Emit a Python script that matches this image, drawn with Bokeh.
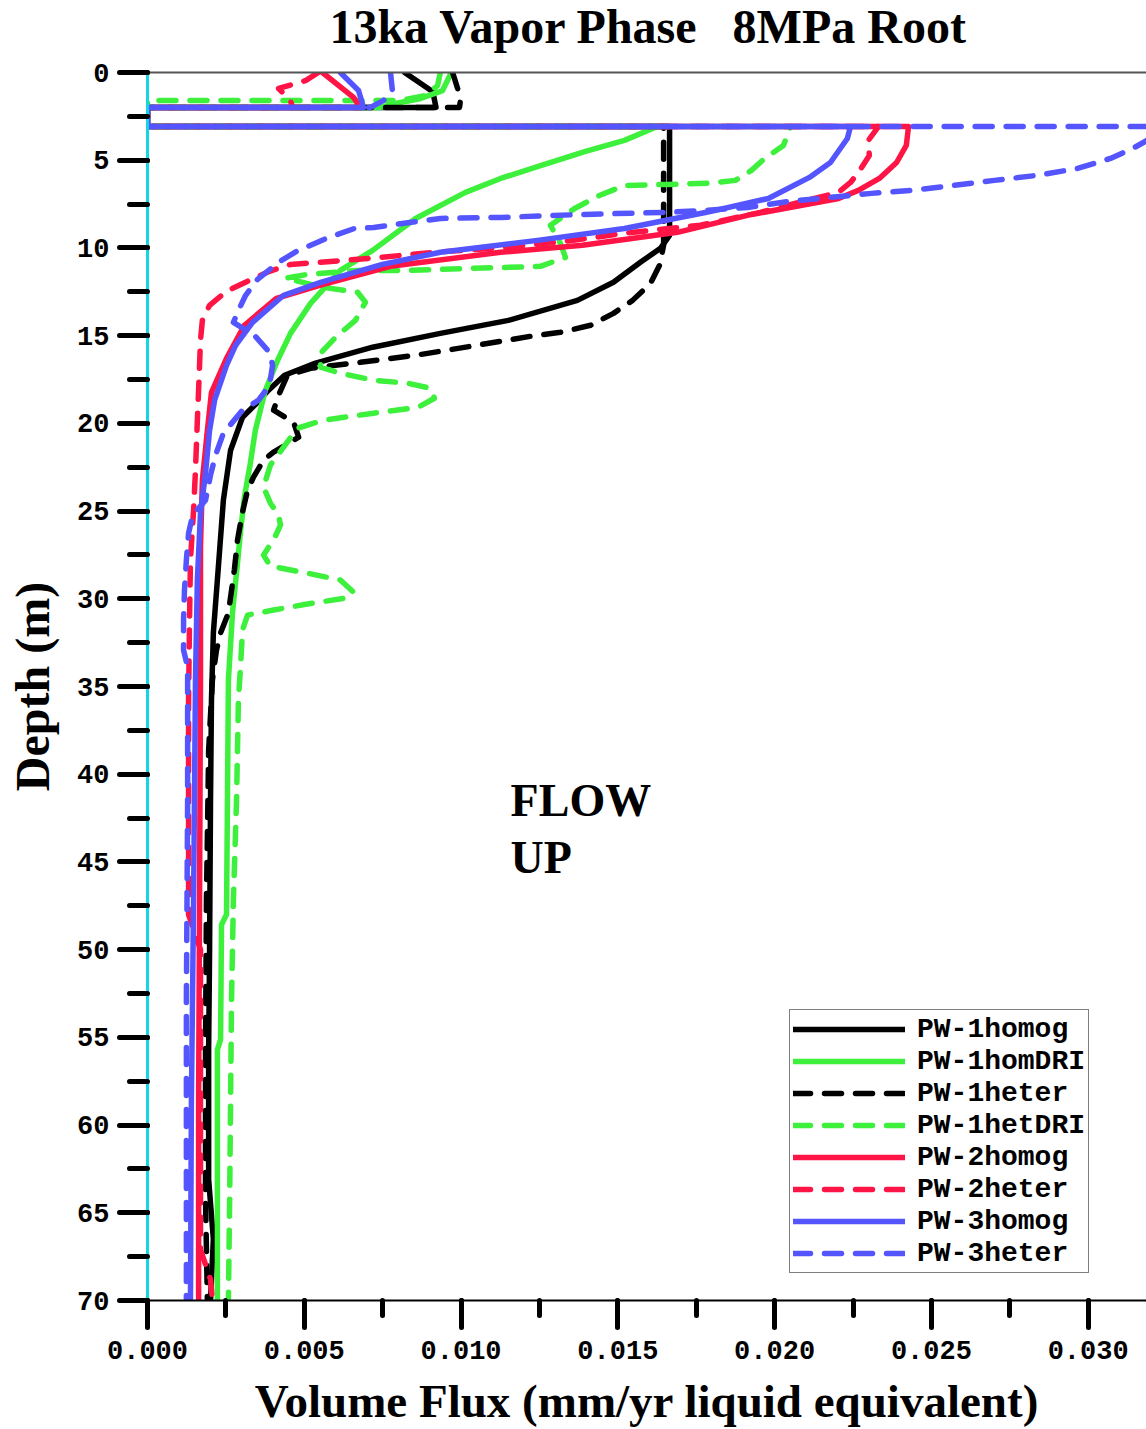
from bokeh.plotting import figure
from bokeh.layouts import column
from bokeh.models import (Range1d, LinearAxis, FixedTicker, SingleIntervalTicker,
                          PrintfTickFormatter, Legend, LegendItem, ColumnDataSource)
from bokeh.core.properties import value
from bokeh.embed import file_html
from bokeh.resources import INLINE

# ---------------- text ----------------
TITLE = "13ka Vapor Phase\u00a0\u00a0\u00a08MPa Root"
X_LABEL = "Volume Flux (mm/yr liquid equivalent)"
Y_LABEL = "Depth (m)"
ANNOT_TEXT = ["FLOW", "UP"]
ANNOT_X = [0.01158, 0.01158]
ANNOT_Y = [41.5, 44.75]

# ---------------- data (flux mm/yr, depth m) ----------------
pw1_homog_flux = [0.0082, 0.0091, 0.0092, 0.0, 0.0, 0.01665, 0.01665, 0.01636, 0.01572, 0.01486,
                  0.01371, 0.01151, 0.00934, 0.00718, 0.00536, 0.00437, 0.00386, 0.00348, 0.00303,
                  0.00265, 0.00242, 0.00226, 0.0021, 0.00204, 0.00201, 0.00198, 0.00195, 0.00195,
                  0.0021, 0.00201]
pw1_homog_depth = [0.0, 1.1, 1.99, 1.99, 3.08, 3.08, 9.28, 10.02, 10.82, 11.96,
                   12.99, 14.13, 14.87, 15.66, 16.57, 17.26, 18.11, 18.85, 19.65,
                   21.53, 24.38, 28.19, 31.95, 35.77, 41.46, 50.0, 55.7, 63.1,
                   66.5, 70.0]

pw1_homdri_flux = [0.00969, 0.00941, 0.00871, 0.00791, 0.00743, 0.0, 0.0, 0.01626, 0.01521, 0.01397,
                   0.01256, 0.01126, 0.01014, 0.00855, 0.00718, 0.00615, 0.0052, 0.00456, 0.00415,
                   0.00376, 0.00344, 0.00328, 0.00309, 0.00297, 0.00287, 0.00271, 0.00258, 0.00255,
                   0.00252, 0.00236, 0.00233, 0.00223, 0.00223]
pw1_homdri_depth = [0.0, 1.03, 1.48, 1.77, 1.99, 1.99, 3.08, 3.08, 3.87, 4.5,
                    5.3, 6.04, 6.83, 8.32, 10.14, 11.28, 13.16, 14.87, 16.4,
                    18.11, 20.39, 22.27, 24.21, 26.09, 27.97, 30.81, 34.63, 41.46,
                    48.0, 48.58, 55.13, 55.7, 70.0]

pw1_heter_flux = [0.00973, 0.00989, 0.00998, 0.00995, 0.0, 0.0, 0.01646, 0.01646, 0.01633, 0.01604,
                  0.01547, 0.01486, 0.01413, 0.01317, 0.01221, 0.0103, 0.00855, 0.00679, 0.0052,
                  0.00446, 0.00421, 0.00402, 0.00466, 0.00482, 0.00402, 0.0037, 0.00338, 0.00319,
                  0.00303, 0.00287, 0.00277, 0.00265, 0.00258, 0.00233, 0.0022, 0.00207, 0.00195,
                  0.00188, 0.00185, 0.00185, 0.00191]
pw1_heter_depth = [0.0, 0.91, 1.59, 1.99, 1.99, 3.08, 3.08, 9.85, 10.99, 12.02,
                   12.99, 13.73, 14.41, 14.81, 15.04, 15.61, 16.12, 16.52, 16.86,
                   17.26, 18.28, 19.25, 19.94, 20.79, 21.64, 22.1, 23.07, 23.81,
                   25.06, 26.66, 28.36, 29.9, 30.81, 31.95, 32.92, 34.63, 38.62,
                   47.16, 55.7, 64.25, 70.0]

pw1_hetdri_flux = [0.00934, 0.00925, 0.00887, 0.00807, 0.0, 0.0, 0.02051, 0.02028, 0.01968, 0.01926,
                   0.01875, 0.01783, 0.01652, 0.01521, 0.01441, 0.01362, 0.01285, 0.01317, 0.01333,
                   0.01253, 0.0104, 0.00829, 0.0067, 0.0051, 0.0044, 0.00561, 0.0067, 0.00695,
                   0.00663, 0.006, 0.00552, 0.00552, 0.00615, 0.00721, 0.00829, 0.00902, 0.00915,
                   0.00864, 0.00721, 0.00561, 0.00478, 0.00434, 0.00392, 0.0037, 0.00392, 0.00418,
                   0.00424, 0.00405, 0.0037, 0.00392, 0.0051, 0.00615, 0.00657, 0.00631, 0.0051,
                   0.00402, 0.00319, 0.00303, 0.00297, 0.0029, 0.00284, 0.00274, 0.00268, 0.00265,
                   0.00262, 0.00258]
pw1_hetdri_depth = [0.0, 0.74, 1.31, 1.6, 1.6, 3.08, 3.08, 4.16, 4.9, 5.58,
                    6.15, 6.32, 6.38, 6.44, 7.01, 7.75, 8.71, 9.74, 10.54,
                    11.05, 11.16, 11.28, 11.28, 11.51, 11.73, 12.25, 12.53, 13.1,
                    14.13, 15.09, 16.0, 16.8, 17.14, 17.54, 17.71, 18.0, 18.57,
                    19.08, 19.42, 19.82, 20.28, 21.36, 22.38, 23.64, 24.55, 25.23,
                    25.8, 26.54, 27.51, 28.14, 28.54, 28.93, 29.62, 29.96, 30.3,
                    30.64, 30.93, 31.78, 33.77, 35.77, 41.46, 47.16, 52.86, 58.55,
                    64.25, 70.0]

pw2_homog_flux = [0.00558, 0.00657, 0.00679, 0.0, 0.0, 0.02427, 0.0242, 0.02389, 0.02334, 0.02267,
                  0.02204, 0.01913, 0.0169, 0.01387, 0.01126, 0.00775, 0.00549, 0.00411, 0.00309,
                  0.00252, 0.00204, 0.00191, 0.00175, 0.00169, 0.00169, 0.00166, 0.00163, 0.00163]
pw2_homog_depth = [0.0, 1.42, 1.99, 1.99, 3.08, 3.08, 4.16, 5.13, 6.04, 6.72,
                   7.18, 8.14, 9.11, 9.85, 10.25, 11.05, 12.13, 12.87, 14.41,
                   16.29, 18.23, 20.39, 23.24, 27.05, 34.63, 47.16, 58.55, 70.0]

pw2_heter_flux = [0.00545, 0.00504, 0.00418, 0.00456, 0.00462, 0.0, 0.0, 0.02331, 0.02299, 0.02302,
                  0.02267, 0.02242, 0.02204, 0.01955, 0.01763, 0.01518, 0.01358, 0.01148, 0.00912,
                  0.00743, 0.00552, 0.00456, 0.00389, 0.00325, 0.00252, 0.00198, 0.00175, 0.00169,
                  0.00166, 0.00163, 0.00159, 0.00153, 0.00147, 0.00137, 0.00134, 0.00131, 0.00131,
                  0.00169, 0.00169, 0.00201, 0.00207]
pw2_heter_depth = [0.0, 0.46, 0.91, 1.59, 1.99, 1.99, 3.08, 3.08, 3.87, 4.73,
                   5.7, 6.27, 6.83, 7.97, 8.71, 9.17, 9.57, 9.97, 10.25,
                   10.54, 10.82, 10.94, 11.33, 11.85, 12.47, 13.27, 14.13, 15.26,
                   16.69, 18.11, 19.82, 22.67, 24.95, 27.79, 31.21, 35.77, 48.0,
                   50.0, 67.1, 68.8, 70.0]

pw3_homog_flux = [0.00615, 0.00673, 0.00689, 0.0, 0.0, 0.02242, 0.02232, 0.02178, 0.02111, 0.0198,
                  0.01783, 0.01521, 0.01244, 0.00934, 0.00749, 0.00552, 0.00434, 0.00335, 0.00281,
                  0.00252, 0.00214, 0.00198, 0.00185, 0.00169, 0.00159, 0.00153, 0.00147, 0.0014,
                  0.00137]
pw3_homog_depth = [0.0, 1.03, 1.99, 1.99, 3.08, 3.08, 3.76, 5.13, 5.98, 7.18,
                   7.97, 8.89, 9.57, 10.25, 10.94, 11.96, 12.7, 14.24, 15.55,
                   16.69, 18.68, 20.39, 22.84, 25.12, 28.93, 34.63, 47.16, 58.55,
                   70.0]

pw3_heter_flux = [0.00775, 0.00781, 0.00753, 0.00711, 0.0, 0.0, 0.0336, 0.0333, 0.0319, 0.03148,
                  0.03071, 0.02966, 0.02835, 0.02701, 0.0257, 0.0244, 0.02309, 0.02178, 0.02044,
                  0.01913, 0.01783, 0.01652, 0.01387, 0.01126, 0.00934, 0.00721, 0.0066, 0.00571,
                  0.00475, 0.00418, 0.00351, 0.00313, 0.0029, 0.00274, 0.00341, 0.00389, 0.00399,
                  0.00389, 0.00354, 0.00303, 0.00242, 0.00217, 0.00201, 0.00185, 0.00144, 0.00131,
                  0.00124, 0.00118, 0.00115, 0.00115, 0.00128, 0.00128, 0.00124, 0.00124]
pw3_heter_depth = [0.0, 1.03, 1.59, 1.99, 1.99, 3.08, 3.08, 3.45, 3.85, 4.27,
                   4.9, 5.47, 5.87, 6.15, 6.44, 6.72, 6.89, 7.12, 7.35,
                   7.69, 7.86, 7.97, 8.09, 8.26, 8.32, 8.83, 8.89, 9.45,
                   10.2, 10.82, 11.79, 12.7, 13.56, 14.24, 14.98, 15.95, 16.69,
                   17.83, 18.68, 19.25, 20.56, 21.81, 22.95, 24.38, 25.23, 26.26,
                   27.79, 29.5, 31.21, 32.92, 33.89, 41.46, 52.86, 70.0]

# ---------------- styles ----------------
BLACK = "#000000"
GREEN = "#3cf03c"
RED = "#ff1446"
BLUE = "#5555ff"
DASH = "17 14"
LW = 5.5

series = [
    ("PW-1homog", pw1_homog_flux, pw1_homog_depth, BLACK, "solid"),
    ("PW-1homDRI", pw1_homdri_flux, pw1_homdri_depth, GREEN, "solid"),
    ("PW-1heter", pw1_heter_flux, pw1_heter_depth, BLACK, DASH),
    ("PW-1hetDRI", pw1_hetdri_flux, pw1_hetdri_depth, GREEN, DASH),
    ("PW-2homog", pw2_homog_flux, pw2_homog_depth, RED, "solid"),
    ("PW-2heter", pw2_heter_flux, pw2_heter_depth, RED, DASH),
    ("PW-3homog", pw3_homog_flux, pw3_homog_depth, BLUE, "solid"),
    ("PW-3heter", pw3_heter_flux, pw3_heter_depth, BLUE, DASH),
]

SERIF = "Liberation Serif"
MONO = "Liberation Mono"

W = 1146
FRAME_LEFT = 147
TITLE_H = 55
MAIN_H = 1429 - TITLE_H

# ---------------- title strip (separate small figure, frame aligned with the plot) ----------------
pt = figure(width=W, height=TITLE_H, output_backend="svg", toolbar_location=None,
            x_range=Range1d(FRAME_LEFT, W), y_range=Range1d(TITLE_H, 0),
            x_axis_location=None, y_axis_location=None,
            min_border_left=FRAME_LEFT, min_border_right=0, min_border_top=0, min_border_bottom=0,
            background_fill_color="white", border_fill_color="white")
pt.outline_line_color = None
pt.grid.visible = False
pt.title.visible = False
title_src = ColumnDataSource(data=dict(x=[648], y=[26], t=[TITLE]))
pt.text("x", "y", text="t", source=title_src, text_font=value(SERIF),
        text_font_style="bold", text_font_size="48px", text_color="black",
        text_align="center", text_baseline="alphabetic")

# ---------------- main plot ----------------
p = figure(width=W, height=MAIN_H, output_backend="svg", toolbar_location=None,
           x_range=Range1d(0, 0.03186), y_range=Range1d(70, 0),
           min_border_left=FRAME_LEFT, min_border_right=0, min_border_top=72 - TITLE_H,
           min_border_bottom=128,
           background_fill_color="white", border_fill_color="white")
p.outline_line_color = None
p.grid.visible = False
p.title.visible = False

xa = p.below[0]
ya = p.left[0]

# top border line as an empty axis
top_axis = LinearAxis(ticker=FixedTicker(ticks=[]), axis_line_color="#555555", axis_line_width=2,
                      major_tick_line_color=None, minor_tick_line_color=None,
                      major_tick_out=0, minor_tick_out=0,
                      major_label_text_font_size="0px", major_label_standoff=0)
p.add_layout(top_axis, "above")

xa.ticker = SingleIntervalTicker(interval=0.005, num_minor_ticks=2)
xa.formatter = PrintfTickFormatter(format="%.3f")
xa.axis_label = X_LABEL
ya.ticker = SingleIntervalTicker(interval=5, num_minor_ticks=2)
ya.axis_label = Y_LABEL

for ax in (xa, ya):
    ax.major_tick_in = 0
    ax.minor_tick_in = 0
    ax.major_tick_line_width = 5
    ax.minor_tick_line_width = 5
    ax.major_tick_line_cap = "round"
    ax.minor_tick_line_cap = "round"
    ax.major_tick_line_color = "black"
    ax.minor_tick_line_color = "black"
    ax.major_label_text_font = MONO
    ax.major_label_text_font_style = "bold"
    ax.major_label_text_font_size = "27px"
    ax.major_label_text_color = "black"
    ax.axis_label_text_font = SERIF
    ax.axis_label_text_font_style = "bold"
    ax.axis_label_text_color = "black"

xa.major_tick_out = 27
xa.minor_tick_out = 15
xa.major_label_standoff = 13
xa.axis_label_standoff = 13
xa.axis_label_text_font_size = "47px"
xa.axis_line_width = 2
xa.axis_line_color = "black"

ya.major_tick_out = 28
ya.minor_tick_out = 18
ya.major_label_standoff = 10
ya.axis_label_standoff = 15
ya.axis_label_text_font_size = "48px"
ya.axis_line_width = 3
ya.axis_line_color = "#12d6e6"

items = []
for label, fx, dp, color, dash in series:
    src = ColumnDataSource(data=dict(flux=fx, depth=dp))
    r = p.line("flux", "depth", source=src, line_color=color, line_width=LW,
               line_dash=dash, line_cap="round", line_join="round")
    items.append(LegendItem(label=label, renderers=[r]))

legend = Legend(items=items, location=(642, 27), orientation="vertical",
                border_line_color="black", border_line_width=1.5,
                background_fill_color="white", background_fill_alpha=1.0,
                label_text_font=MONO, label_text_font_style="bold",
                label_text_font_size="28px", label_text_color="black",
                glyph_width=112, glyph_height=32, label_height=32,
                spacing=0, padding=3, margin=0, label_standoff=12)
p.add_layout(legend)

annot_src = ColumnDataSource(data=dict(x=ANNOT_X, y=ANNOT_Y, t=ANNOT_TEXT))
p.text("x", "y", text="t", source=annot_src, text_font=value(SERIF),
       text_font_style="bold", text_font_size="46px", text_color="black",
       text_baseline="alphabetic", text_align="left")

layout = column(pt, p, spacing=0)
open("out.html", "w").write(file_html(layout, INLINE))
